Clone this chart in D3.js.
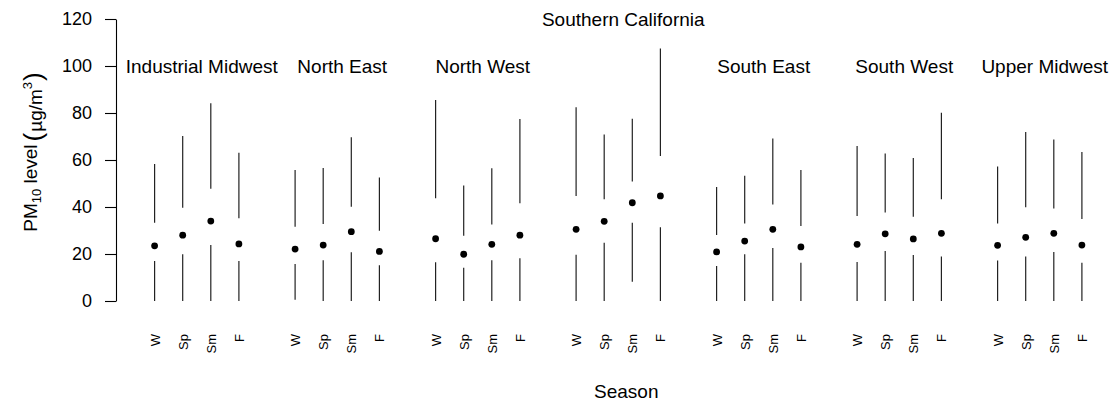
<!DOCTYPE html>
<html>
<head>
<meta charset="utf-8">
<script src="https://cdn.jsdelivr.net/npm/d3@7"></script>
<style>
  body { margin: 0; background: #fff; }
  svg { font-family: "Liberation Sans", Arial, Helvetica, sans-serif; }
</style>
</head>
<body>
<div id="chart"></div>
<script>
// regions and seasons
const groups = ["Industrial Midwest", "North East", "North West", "Southern California",
                "South East", "South West", "Upper Midwest"];
const seasons = ["W", "Sp", "Sm", "F"];
const labelLevel = [100, 100, 100, 120, 100, 100, 100];
const yTicks = [0, 20, 40, 60, 80, 100, 120];

// five number summaries, 4 seasons per region (W, Sp, Sm, F)
const minVals = [0, 0, 0, 0,   0.5, 0, 0, 0,   0, 0, 0, 0,   0, 0, 8.2, 0,
                 0, 0, 0, 0,   0, 0, 0, 0,     0, 0, 0, 0];
const q1Vals  = [17.0, 19.9, 23.8, 17.0,  15.7, 17.3, 20.7, 15.2,  16.5, 14.2, 17.3, 18.2,
                 19.7, 24.8, 33.3, 31.4,  14.9, 19.9, 22.6, 16.3,  16.6, 21.3, 19.6, 18.9,
                 17.2, 18.9, 20.9, 16.3];
const medVals = [23.5, 28.0, 34.0, 24.3,  22.1, 23.8, 29.5, 21.1,  26.5, 19.9, 24.1, 28.0,
                 30.5, 33.9, 41.8, 44.7,  20.9, 25.5, 30.5, 23.0,  24.1, 28.6, 26.4, 28.8,
                 23.7, 27.1, 28.8, 23.8];
const q3Vals  = [33.3, 39.7, 47.8, 35.2,  31.6, 32.8, 40.1, 29.9,  43.7, 27.8, 32.6, 41.6,
                 44.7, 43.3, 50.8, 61.7,  28.1, 33.0, 41.1, 31.9,  36.2, 37.7, 35.9, 43.3,
                 33.0, 39.9, 39.4, 34.9];
const maxVals = [58.3, 70.2, 84.1, 63.1,  55.7, 56.6, 69.7, 52.6,  85.5, 49.1, 56.5, 77.4,
                 82.4, 70.9, 77.6, 107.4, 48.5, 53.3, 69.2, 55.7,  66.0, 62.8, 60.9, 80.1,
                 57.2, 71.9, 68.7, 63.4];

const width = 1113, height = 402;

const svg = d3.select("#chart")
  .append("svg")
    .attr("width", width)
    .attr("height", height);

// build rows: one per region x season, with a slot position (gap between regions)
const boxes = medVals.map((m, i) => {
  const g = Math.floor(i / 4), s = i % 4;
  return {group: groups[g], season: seasons[s], pos: g * 5 + s + 1,
          min: minVals[i], q1: q1Vals[i], med: m, q3: q3Vals[i], max: maxVals[i]};
});

const x = d3.scaleLinear()
  .domain([0.5, 34.5])
  .range([140.55, 1095.95]);

const y = d3.scaleLinear()
  .domain([0, 120])
  .range([301, 19]);

// y axis
const yAxis = svg.append("g")
  .attr("transform", "translate(116,0)")
  .call(d3.axisLeft(y).tickValues(yTicks).tickSize(11).tickSizeOuter(0).tickPadding(13));
yAxis.select(".domain").attr("stroke", "#000").attr("stroke-width", 1.1);
yAxis.selectAll(".tick line").attr("stroke", "#000").attr("stroke-width", 1.1);
yAxis.selectAll(".tick text")
  .attr("fill", "#000")
  .style("font-size", "18px")
  .style("font-family", "'Liberation Sans', Arial, sans-serif");

// x axis: season labels only, rotated
const xAxis = svg.append("g")
  .attr("transform", "translate(0,301)")
  .call(d3.axisBottom(x)
    .tickValues(boxes.map(d => d.pos))
    .tickFormat((d, i) => boxes[i].season)
    .tickSize(0));
xAxis.select(".domain").remove();
xAxis.selectAll(".tick text")
  .attr("transform", "rotate(-90)")
  .attr("x", -33)
  .attr("y", 0)
  .attr("dy", "0.35em")
  .attr("text-anchor", "end")
  .attr("fill", "#000")
  .style("font-size", "13px")
  .style("font-family", "'Liberation Sans', Arial, sans-serif");

// lower whiskers (min to Q1)
svg.selectAll(".lower")
  .data(boxes)
  .join("line")
    .attr("class", "lower")
    .attr("x1", d => x(d.pos))
    .attr("x2", d => x(d.pos))
    .attr("y1", d => y(d.min))
    .attr("y2", d => y(d.q1))
    .attr("stroke", "#222")
    .attr("stroke-width", 1.2);

// upper whiskers (Q3 to max)
svg.selectAll(".upper")
  .data(boxes)
  .join("line")
    .attr("class", "upper")
    .attr("x1", d => x(d.pos))
    .attr("x2", d => x(d.pos))
    .attr("y1", d => y(d.q3))
    .attr("y2", d => y(d.max))
    .attr("stroke", "#222")
    .attr("stroke-width", 1.2);

// medians
svg.selectAll(".med")
  .data(boxes)
  .join("circle")
    .attr("class", "med")
    .attr("cx", d => x(d.pos))
    .attr("cy", d => y(d.med))
    .attr("r", 3.4)
    .attr("fill", "#000");

// region labels
svg.selectAll(".glabel")
  .data(groups)
  .join("text")
    .attr("class", "glabel")
    .attr("x", (d, i) => x(i * 5 + 2.5) + 5)
    .attr("y", (d, i) => y(labelLevel[i]))
    .attr("dy", "0.35em")
    .attr("text-anchor", "middle")
    .style("font-size", "19px")
    .attr("fill", "#000")
    .text(d => d);

// x axis title
svg.append("text")
  .attr("x", x(17.5) + 8)
  .attr("y", 398)
  .attr("text-anchor", "middle")
  .style("font-size", "19px")
  .attr("fill", "#000")
  .text("Season");

// y axis title: PM10 level (µg/m3)
const yl = svg.append("text")
  .attr("transform", "translate(37,152) rotate(-90)")
  .attr("text-anchor", "middle")
  .style("font-size", "19px")
  .attr("fill", "#000");
yl.append("tspan").text("PM");
yl.append("tspan").attr("dy", 4).style("font-size", "13px").text("10");
yl.append("tspan").attr("dy", -4).text(" level");
yl.append("tspan").attr("dy", 5).attr("dx", 3).style("font-size", "26px").style("font-weight", 300).text("(");
yl.append("tspan").attr("dx", 1).text("µg/m");
yl.append("tspan").attr("dy", -10).style("font-size", "13px").text("3");
yl.append("tspan").attr("dy", 10).attr("dx", 1).style("font-size", "26px").style("font-weight", 300).text(")");
</script>
</body>
</html>
